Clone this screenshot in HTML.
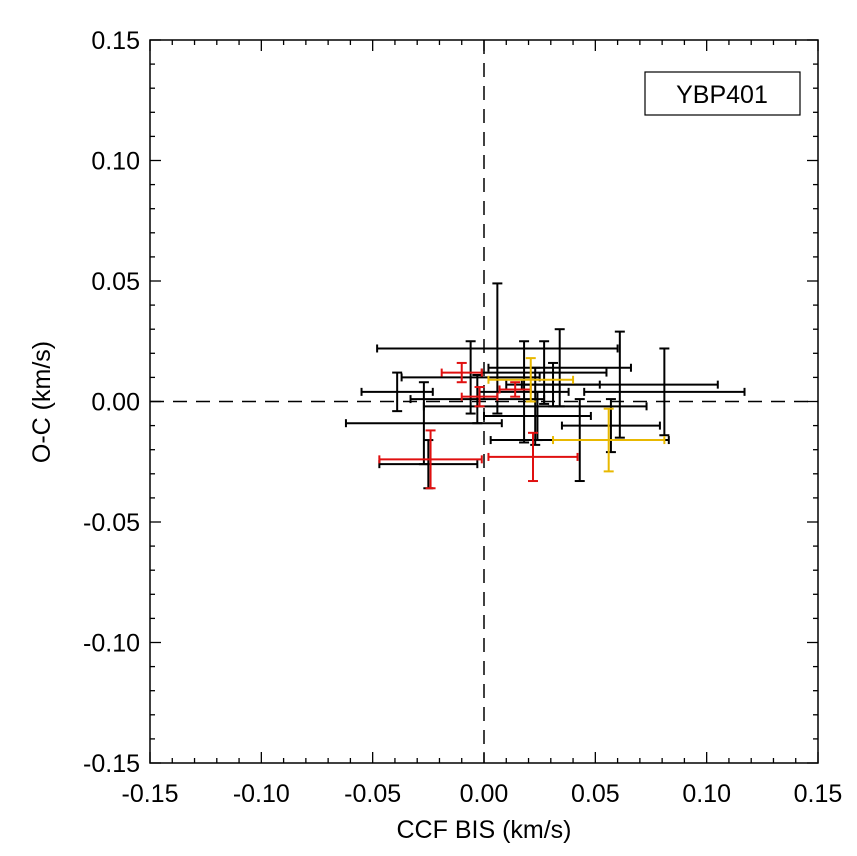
<!DOCTYPE html>
<html><head><meta charset="utf-8"><style>
html,body{margin:0;padding:0;background:#fff;}
svg{display:block;font-family:"Liberation Sans",Arial,sans-serif;}
</style></head><body>
<svg id="chart" width="857" height="856" viewBox="0 0 857 856">
<g id="axes"></g>
<g id="marks"></g>
<rect x="645" y="72" width="155" height="43" fill="#fff" stroke="#000" stroke-width="1.2"/>
<text x="722" y="103" font-size="25" text-anchor="middle">YBP401</text>
<text x="484" y="838" font-size="25" text-anchor="middle">CCF BIS (km/s)</text>
<text x="0" y="0" font-size="25" text-anchor="middle" transform="translate(50,402) rotate(-90)">O-C (km/s)</text>
</svg>
<script>
const xTicks=[-0.15,-0.10,-0.05,0.00,0.05,0.10,0.15];
const yTicks=[-0.15,-0.10,-0.05,0.00,0.05,0.10,0.15];
const tickLabels=["-0.15","-0.10","-0.05","0.00","0.05","0.10","0.15"];
const xVals=[0.006,-0.006,-0.039,-0.027,-0.025,0.034,0.061,0.081,0.057,0.043,0.027,0.031,0.018,0.023,0.024,-0.003];
const yVals=[0.022,0.010,0.004,-0.009,-0.026,0.014,0.007,0.004,-0.010,-0.016,0.012,0.007,0.004,-0.002,-0.006,0.001];
const xErr=[0.054,0.031,0.016,0.035,0.022,0.032,0.044,0.036,0.022,0.040,0.028,0.021,0.020,0.050,0.024,0.030];
const yErr=[0.027,0.015,0.008,0.017,0.010,0.016,0.022,0.018,0.011,0.017,0.013,0.009,0.021,0.016,0.010,0.010];
const redX=[-0.010,-0.002,-0.024,0.022,0.014];
const redY=[0.012,0.002,-0.024,-0.023,0.005];
const redXErr=[0.009,0.008,0.023,0.020,0.007];
const redYErr=[0.004,0.004,0.012,0.010,0.003];
const yelX=[0.021,0.056];
const yelY=[0.009,-0.016];
const yelXErr=[0.019,0.025];
const yelYErr=[0.009,0.013];

const L=150,R=818,T=40,B=763;
const sx=v=>L+(v+0.15)/0.30*(R-L);
const sy=v=>B-(v+0.15)/0.30*(B-T);
const NS="http://www.w3.org/2000/svg";
const ax=document.getElementById('axes');
const mk=document.getElementById('marks');
function line(g,x1,y1,x2,y2,c,w,dash){const l=document.createElementNS(NS,'line');l.setAttribute('x1',x1);l.setAttribute('y1',y1);l.setAttribute('x2',x2);l.setAttribute('y2',y2);l.setAttribute('stroke',c);l.setAttribute('stroke-width',w);if(dash)l.setAttribute('stroke-dasharray',dash);g.appendChild(l);return l;}
const frame=document.createElementNS(NS,'rect');
frame.setAttribute('x',L);frame.setAttribute('y',T);frame.setAttribute('width',R-L);frame.setAttribute('height',B-T);
frame.setAttribute('fill','none');frame.setAttribute('stroke','#000');frame.setAttribute('stroke-width','1.5');


ax.appendChild(frame);
for(let i=0;i<=30;i++){
  const v=-0.15+i*0.01;const maj=i%5===0;const len=maj?11:5;
  const x=sx(v),y=sy(v);
  line(ax,x,B,x,B-len,'#000',1.3);line(ax,x,T,x,T+len,'#000',1.3);
  line(ax,L,y,L+len,y,'#000',1.3);line(ax,R,y,R-len,y,'#000',1.3);
}
xTicks.forEach((v,i)=>{const t=document.createElementNS(NS,'text');t.setAttribute('x',sx(v));t.setAttribute('y',802);t.setAttribute('font-size','25');t.setAttribute('text-anchor','middle');t.textContent=tickLabels[i];


ax.appendChild(t);});
yTicks.forEach((v,i)=>{const t=document.createElementNS(NS,'text');t.setAttribute('x',140);t.setAttribute('y',sy(v)+9);t.setAttribute('font-size','25');t.setAttribute('text-anchor','end');t.textContent=tickLabels[i];


ax.appendChild(t);});
const zx=line(ax,sx(0),T,sx(0),B,'#000',1.5,'14,9');


const zy=line(ax,L,sy(0),R,sy(0),'#000',1.5,'14,9');


function series(xs,ys,xe,ye,c,name){
  xs.forEach((x,i)=>{
    const g=document.createElementNS(NS,'g');
    
    
    const x1=sx(x-xe[i]),x2=sx(x+xe[i]),ya=sy(ys[i]+ye[i]),yb=sy(ys[i]-ye[i]);
    const cx=sx(x),cy=sy(ys[i]);
    line(g,x1,cy,x2,cy,c,2);line(g,x1,cy-4,x1,cy+4,c,2);line(g,x2,cy-4,x2,cy+4,c,2);
    line(g,cx,ya,cx,yb,c,2);line(g,cx-5,ya,cx+5,ya,c,2);line(g,cx-5,yb,cx+5,yb,c,2);
    mk.appendChild(g);
  });
}
series(xVals,yVals,xErr,yErr,'#000','black-point');
series(redX,redY,redXErr,redYErr,'#e01010','red-point');
series(yelX,yelY,yelXErr,yelYErr,'#e8b800','yellow-point');
</script>
</body></html>
